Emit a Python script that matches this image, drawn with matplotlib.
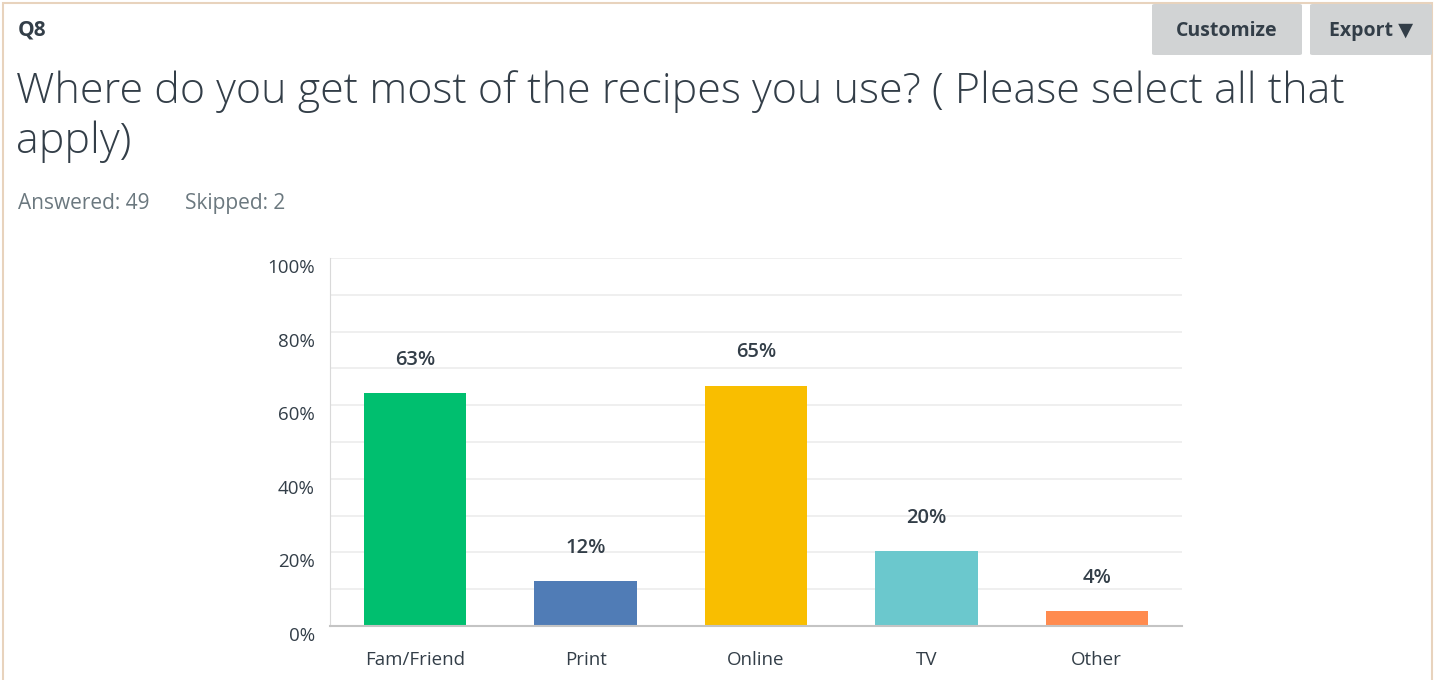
import matplotlib.pyplot as plt
from matplotlib.patches import Rectangle, FancyBboxPatch
from matplotlib.transforms import offset_copy

plt.rcParams['font.family'] = ['Open Sans', 'DejaVu Sans']

# data
categories = ['Fam/Friend', 'Print', 'Online', 'TV', 'Other']
percents = [63.27, 12.24, 65.31, 20.41, 4.08]
bar_colors = ['#00bf6f', '#507cb6', '#f9be00', '#6bc8cd', '#ff8b4f']
y_ticks = [0, 20, 40, 60, 80, 100]
grid_lines = [10, 20, 30, 40, 50, 60, 70, 80, 90, 100]

W, H = 1440, 680
fig = plt.figure(figsize=(W / 100, H / 100), dpi=100)
fig.patch.set_facecolor('white')

def fx(px):
    return px / W

def fy(py):
    return 1 - py / H

# panel border
fig.add_artist(Rectangle((fx(3), fy(700)), fx(1432) - fx(3), fy(3) - fy(700),
                         transform=fig.transFigure, fill=False,
                         edgecolor='#e8d3bd', linewidth=1.5))

# buttons
for x0, x1, label in [(1152, 1302, 'Customize'), (1310, 1432, 'Export \u25BC')]:
    fig.add_artist(FancyBboxPatch((fx(x0), fy(55)), fx(x1) - fx(x0), fy(4) - fy(55),
                                  boxstyle='round,pad=0,rounding_size=0.002',
                                  transform=fig.transFigure, facecolor='#d1d3d4',
                                  edgecolor='none'))
    fig.text(fx((x0 + x1) / 2), fy(31), label, ha='center', va='center',
             fontsize=14, fontweight='bold', color='#333e48')

fig.text(fx(18), fy(30), 'Q8', ha='left', va='center', fontsize=15,
         fontweight='bold', color='#333e48')
fig.text(fx(16), fy(70), 'Where do you get most of the recipes you use? ( Please select all that\napply)',
         ha='left', va='top', fontsize=31, fontweight='light', color='#333e48',
         linespacing=1.22)
fig.text(fx(18), fy(203), 'Answered: 49', ha='left', va='center',
         fontsize=15, color='#6b787f')
fig.text(fx(185), fy(203), 'Skipped: 2', ha='left', va='center',
         fontsize=15, color='#6b787f')

# chart
ax = fig.add_axes([fx(330), fy(626), fx(1182) - fx(330), fy(258) - fy(626)])
x = list(range(len(categories)))
bars = ax.bar(x, percents, width=0.6, color=bar_colors, zorder=3)
ax.set_xlim(-0.5, len(categories) - 0.5)
ax.set_ylim(0, 100)

for g in grid_lines:
    ax.axhline(g, color='#ececec', linewidth=1.2, zorder=1)

for b, p in zip(bars, percents):
    ax.annotate(f'{round(p)}%', (b.get_x() + b.get_width() / 2, p),
                xytext=(0, 24), textcoords='offset points', ha='center',
                va='center', fontsize=14.5, fontweight='semibold', color='#333e48')

ax.set_yticks(y_ticks)
ax.set_yticklabels([f'{t}%' for t in y_ticks])
ax.set_xticks(x)
ax.set_xticklabels(categories)
ax.tick_params(axis='both', length=0, labelsize=13.5, colors='#333e48')
ax.tick_params(axis='y', pad=11)
ax.tick_params(axis='x', pad=18)
for lab in ax.get_yticklabels():
    lab.set_transform(offset_copy(lab.get_transform(), fig=fig, x=0, y=-8, units='dots'))

for s in ['top', 'right']:
    ax.spines[s].set_visible(False)
ax.spines['left'].set_color('#d9d9d9')
ax.spines['bottom'].set_color('#c4c4c4')
ax.spines['bottom'].set_linewidth(1.5)
ax.spines['bottom'].set_zorder(4)

fig.savefig('out.png', dpi=100)
